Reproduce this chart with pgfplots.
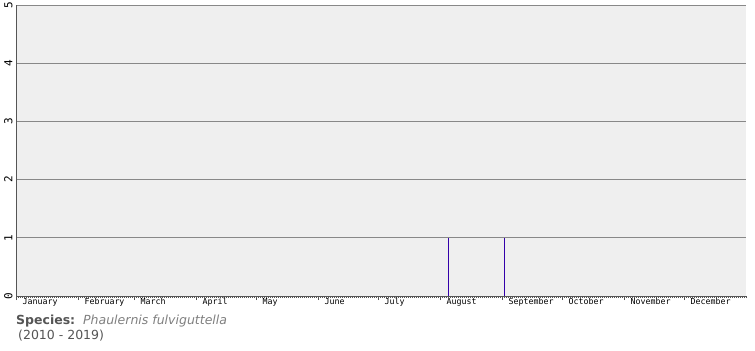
\documentclass[border=0pt]{standalone}
\usepackage{fontspec}
\setmainfont{DejaVu Sans}
\newfontfamily\tickfont{DejaVu Sans Mono}
\usepackage{pgfplots}
\pgfplotsset{compat=1.18}
\definecolor{bg}{HTML}{EFEFEF}
\definecolor{gridc}{HTML}{888888}
\definecolor{axc}{HTML}{555555}
\definecolor{barc}{HTML}{3300AA}
\begin{document}
\begin{tikzpicture}[x=1bp,y=1bp]
\path[use as bounding box] (0,0) rectangle (755,350);
\begin{axis}[
  at={(16bp,54bp)}, anchor=south west,
  scale only axis, width=730bp, height=291bp,
  xmin=0, xmax=365, ymin=0, ymax=5,
  axis background/.style={fill=bg},
  axis x line*=bottom, axis y line*=left,
  axis line style={axc, line width=1bp},
  every outer x axis line/.append style={-}, every outer y axis line/.append style={-},
  xtick={0,31,59,90,120,151,181,212,243,273,304,334},
  xticklabels={January,February,March,April,May,June,July,August,September,October,November,December},
  minor xtick={0,1,...,365},
  xtick style={draw=axc, line width=0.6bp},
  major tick length=4bp, minor tick length=2bp,
  xtick align=outside,
  xticklabel style={anchor=north west, xshift=3bp, yshift=5bp, font=\tickfont\fontsize{8.3bp}{9bp}\selectfont, text=black},
  ytick={0,1,2,3,4,5},
  yticklabels={0,1,2,3,4,5},
  ytick style={draw=none},
  yticklabel style={rotate=90, anchor=south, xshift=0bp, font=\tickfont\fontsize{11bp}{12bp}\selectfont, text=black},
  ymajorgrids, grid style={gridc, line width=1bp},
  clip=false,
]
\addplot[ycomb, barc, line width=1bp, mark=none] coordinates {(216,1) (244,1)};
\end{axis}
\node[anchor=base west, inner sep=0pt, text=axc] at (16,26) {\fontsize{12.5bp}{14bp}\selectfont\textbf{Species:}~~\textcolor{gray}{\textit{Phaulernis fulviguttella}}};
\node[anchor=base west, inner sep=0pt, text=axc] at (18,11) {\fontsize{12.5bp}{14bp}\selectfont(2010 - 2019)};
\end{tikzpicture}
\end{document}
